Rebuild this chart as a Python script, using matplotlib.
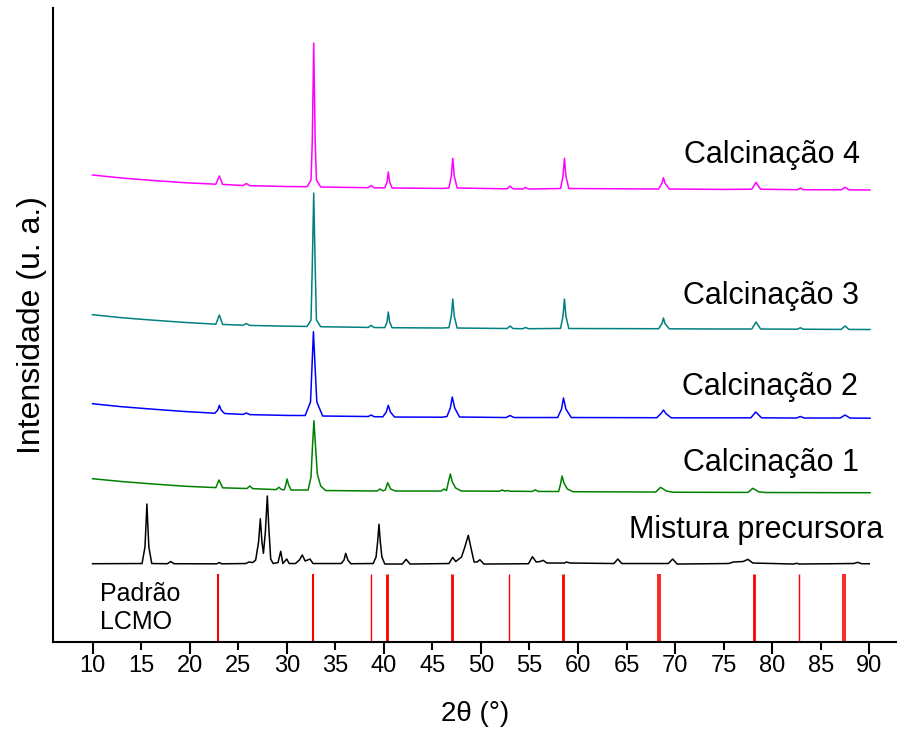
import matplotlib
matplotlib.use("Agg")
import matplotlib.pyplot as plt
from matplotlib.ticker import MultipleLocator, FormatStrFormatter

plt.rcParams['font.family'] = ['Liberation Sans', 'DejaVu Sans']

# XRD patterns: (2theta, intensity) vertices, arbitrary units
calc4 = [(10.0, 467), (13.0, 464), (16.0, 461.7), (19.5, 459.3),
         (22.7, 457.8), (23.06, 466), (23.4, 457.6),
         (25.5, 456.5), (25.84, 458.5), (26.2, 456.3), (30.0, 455.5),
         (32.1, 455.3), (32.5, 462), (32.63, 500), (32.78, 599), (32.93, 500), (33.06, 462), (33.5, 455),
         (38.4, 454.3), (38.7, 456.5), (39.0, 454.2),
         (40.1, 454.2), (40.33, 460), (40.46, 470), (40.6, 460), (40.85, 454),
         (46.0, 453.6), (46.7, 454), (46.95, 466), (47.1, 483.7), (47.25, 466), (47.55, 454),
         (52.7, 453.2), (53.0, 456), (53.3, 453.2), (54.3, 453), (54.6, 454.5), (54.9, 453),
         (58.2, 453.5), (58.45, 466), (58.6, 483.7), (58.75, 466), (59.05, 453.5),
         (68.3, 453), (68.65, 459), (68.8, 464.3), (68.95, 459), (69.4, 453),
         (75.0, 452.6), (77.9, 452.8), (78.33, 459.7), (78.8, 452.8),
         (82.6, 452.3), (82.9, 454), (83.2, 452.3),
         (87.1, 452.2), (87.5, 454.7), (87.9, 452.2), (90.07, 452)]

calc3 = [(10.0, 327.3), (13.0, 324.3), (16.0, 322), (19.5, 319.6),
         (22.7, 317.8), (23.06, 327), (23.4, 317.6),
         (25.5, 316.8), (25.84, 318.5), (26.2, 316.6), (30.0, 315.8),
         (32.1, 315.6), (32.5, 322), (32.63, 375), (32.78, 449), (32.93, 375), (33.06, 322), (33.5, 315.3),
         (38.4, 314.6), (38.7, 316.6), (39.0, 314.5),
         (40.1, 314.4), (40.33, 320), (40.46, 330), (40.6, 320), (40.85, 314.3),
         (46.0, 314), (46.7, 314.3), (46.95, 326), (47.1, 343), (47.25, 326), (47.55, 314),
         (52.7, 313.5), (53.0, 316), (53.3, 313.5), (54.3, 313.3), (54.6, 314.5), (54.9, 313.3),
         (58.2, 313.6), (58.45, 326), (58.6, 343), (58.75, 326), (59.05, 313.5),
         (68.3, 313.3), (68.65, 318.5), (68.8, 324), (68.95, 318.5), (69.4, 313.2),
         (75.0, 313), (77.9, 313), (78.33, 320), (78.8, 313),
         (82.6, 312.8), (82.9, 314.3), (83.2, 312.8),
         (87.1, 312.6), (87.5, 316), (87.9, 312.6), (90.07, 312.5)]

calc2 = [(10.0, 238.3), (13.0, 235.3), (16.0, 233), (19.5, 230.5),
         (22.6, 228.8), (22.9, 232), (23.06, 236.7), (23.25, 232), (23.6, 228.5),
         (25.5, 227.6), (25.84, 229), (26.2, 227.4), (30.0, 226.6),
         (31.9, 226.5), (32.45, 240), (32.6, 275), (32.75, 310.3), (32.92, 275), (33.1, 240), (33.7, 226),
         (38.4, 225.5), (38.7, 227), (39.0, 225.3),
         (39.9, 225.2), (40.25, 230), (40.46, 236.7), (40.68, 230), (41.1, 225),
         (46.0, 224.8), (46.5, 225.5), (46.85, 234), (47.05, 245), (47.3, 234), (47.8, 225),
         (52.6, 224.5), (53.0, 226.5), (53.4, 224.5),
         (57.9, 224.5), (58.3, 233), (58.5, 244), (58.75, 233), (59.3, 224.5),
         (68.1, 224.3), (68.55, 228.5), (68.8, 232), (69.05, 228.5), (69.6, 224.2),
         (75.0, 224.2), (77.8, 224.2), (78.3, 230), (78.9, 224.2),
         (82.5, 224), (82.9, 225.5), (83.3, 224),
         (87.0, 224), (87.5, 227), (88.0, 224), (90.07, 223.8)]

calc1 = [(10.0, 163.3), (13.0, 160.5), (16.0, 158.2), (19.5, 155.8),
         (22.7, 154.4), (23.03, 162), (23.4, 154.2),
         (25.9, 153.5), (26.2, 156), (26.5, 153.4),
         (28.9, 152.4), (29.2, 154.7), (29.5, 152.3),
         (29.75, 152.3), (29.9, 157), (30.03, 163), (30.2, 157), (30.45, 152),
         (32.2, 152), (32.5, 165), (32.65, 195), (32.8, 221.3), (32.97, 195), (33.15, 168), (33.5, 156), (34.0, 151.5),
         (39.3, 151), (39.6, 153), (39.9, 151.2), (40.15, 152), (40.4, 159.3), (40.7, 153), (41.2, 151),
         (45.9, 151), (46.2, 153), (46.45, 151.5), (46.65, 160), (46.85, 168), (47.05, 160), (47.4, 154), (48.0, 151),
         (51.9, 150.8), (52.2, 152), (52.5, 150.8), (52.7, 151.5), (53.0, 150.8),
         (55.3, 150.6), (55.6, 152.2), (55.9, 150.6),
         (58.0, 150.5), (58.2, 158), (58.35, 166), (58.55, 159), (58.9, 153), (59.5, 150.3),
         (68.0, 150), (68.5, 154.7), (69.1, 151), (69.8, 149.8),
         (77.5, 149.6), (78.0, 153.7), (78.6, 150.2), (79.3, 149.5),
         (90.07, 149.3)]

mistura = [(10.0, 78.3), (15.1, 78.5), (15.4, 95), (15.52, 120), (15.6, 138), (15.68, 120), (15.8, 95), (16.1, 78.5),
           (17.7, 78.3), (18.05, 80.5), (18.4, 78.3),
           (22.8, 78.2), (23.06, 79.5), (23.3, 78.2),
           (25.8, 78.5), (26.1, 80), (26.5, 79.5), (26.8, 82), (27.1, 100), (27.28, 123.3), (27.45, 100),
           (27.6, 88.7), (27.8, 110), (28.0, 146), (28.15, 115), (28.35, 83),
           (28.6, 78.5), (29.1, 79.5), (29.38, 90.7), (29.6, 78.5), (30.0, 83), (30.25, 78.5),
           (30.9, 78.5), (31.3, 82), (31.6, 87), (31.9, 81), (32.4, 83), (32.7, 78.5),
           (35.6, 78.5), (35.9, 82), (36.07, 88.7), (36.3, 82), (36.6, 78.3),
           (38.9, 78.5), (39.2, 85), (39.36, 100), (39.5, 117.7), (39.64, 100), (39.8, 85), (40.1, 78),
           (41.9, 78), (42.3, 82.7), (42.7, 78),
           (46.7, 78.5), (47.1, 84.7), (47.4, 80.5), (48.0, 85), (48.3, 93.7), (48.7, 106.7), (49.0, 93),
           (49.3, 80), (49.6, 80), (49.9, 82.3), (50.3, 78),
           (54.9, 78.3), (55.3, 85.3), (55.7, 80), (56.1, 80.5), (56.4, 81.7), (56.8, 79),
           (58.6, 79), (58.8, 80), (59.2, 79),
           (63.7, 78.5), (64.1, 83), (64.5, 78.5),
           (69.3, 78.5), (69.75, 83), (70.2, 78),
           (75.5, 78.5), (76.0, 80), (77.0, 80.5), (77.5, 82.7), (78.0, 79),
           (82.2, 78), (82.5, 78.7), (82.8, 78),
           (88.4, 78.5), (88.8, 79.7), (89.2, 78.3), (90.0, 78.3)]

# LCMO reference pattern (Padrao)
lcmo_pos = [22.9, 32.68, 38.65, 40.36, 47.0, 52.93, 58.42, 68.27, 68.48, 78.13, 82.79, 87.29, 87.5]
lcmo_height = [68] * len(lcmo_pos)
lcmo_lw = [1.5, 1.5, 1.0, 2.0, 2.0, 1.0, 2.0, 1.2, 1.2, 2.0, 1.0, 1.2, 1.2]

series = [(mistura, 'black'), (calc1, '#008000'), (calc2, '#0000FF'),
          (calc3, '#008080'), (calc4, '#FF00FF')]

labels = ['Mistura precursora', 'Calcinação 1', 'Calcinação 2', 'Calcinação 3', 'Calcinação 4']
label_x = [78.3, 79.9, 79.8, 79.9, 80.0]
label_y = [112, 179, 255, 346, 487]

fig = plt.figure(figsize=(8.97, 7.34), dpi=100)
ax = fig.add_axes([0.0591, 0.1253, 0.9409, 0.8638])

for data, col in series:
    xs = [p[0] for p in data]
    ys = [p[1] for p in data]
    ax.plot(xs, ys, color=col, lw=1.1)

for x, h, w in zip(lcmo_pos, lcmo_height, lcmo_lw):
    ax.vlines(x, 0, h, color='#FF0000', lw=w)

for t, x, y in zip(labels, label_x, label_y):
    ax.text(x, y, t, fontsize=22, ha='center', va='center')
ax.text(10.8, 34, 'Padrão\nLCMO', fontsize=18, ha='left', va='center', linespacing=1.2)

ax.set_xlim(5.93, 92.85)
ax.set_ylim(0, 634)
ax.xaxis.set_major_locator(MultipleLocator(10))
ax.xaxis.set_minor_locator(MultipleLocator(5))
ax.xaxis.set_major_formatter(FormatStrFormatter('%d'))
ax.xaxis.set_minor_formatter(FormatStrFormatter('%d'))
ax.tick_params(axis='x', which='major', length=8.5, width=1.5, labelsize=17, direction='out', pad=1)
ax.tick_params(axis='x', which='minor', length=6, width=1.5, labelsize=17, direction='out', pad=3)
ax.set_yticks([])
ax.spines['top'].set_visible(False)
ax.spines['right'].set_visible(False)
ax.spines['left'].set_linewidth(1.5)
ax.spines['bottom'].set_linewidth(1.5)

ax.set_xlabel('2θ (°)', fontsize=20, labelpad=17)
ax.set_ylabel('Intensidade (u. a.)', fontsize=23, labelpad=4)

fig.savefig('out.png', dpi=100)
